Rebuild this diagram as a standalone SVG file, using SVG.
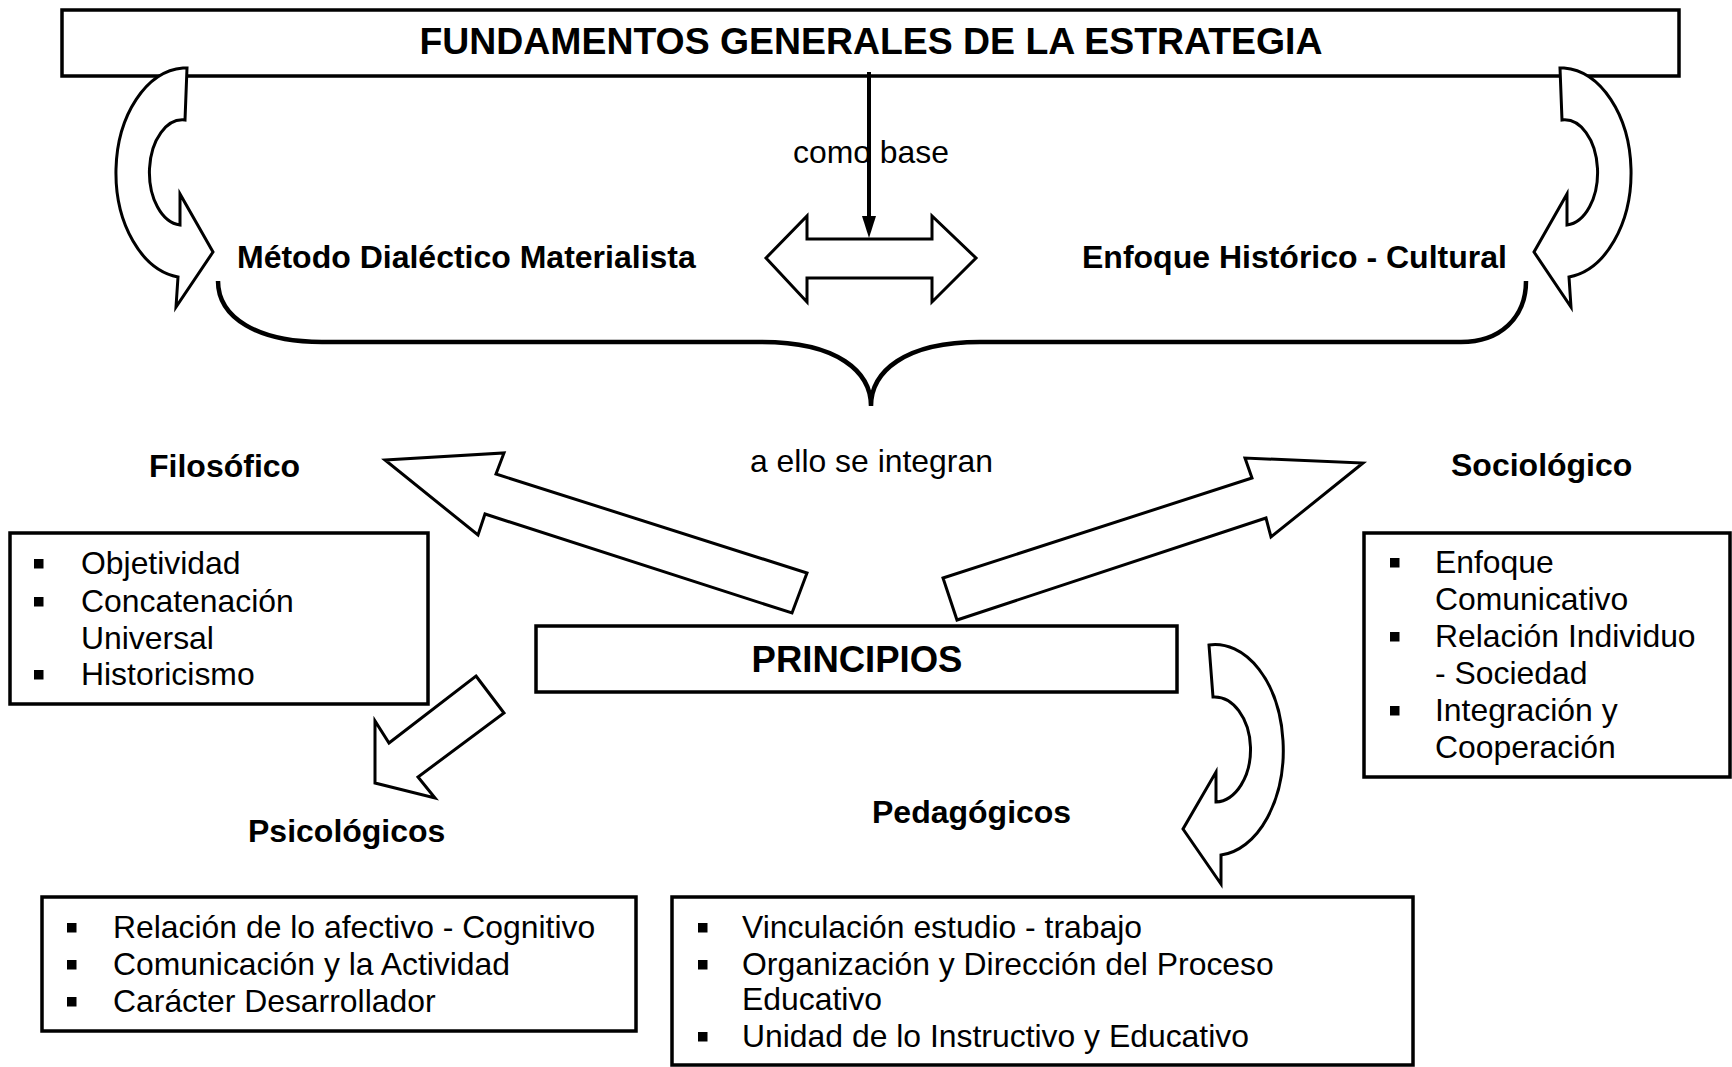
<svg xmlns="http://www.w3.org/2000/svg" width="1732" height="1067" viewBox="0 0 1732 1067">
<style>
.box{fill:#fff;stroke:#000;stroke-width:3.5}
.shp{fill:#fff;stroke:#000;stroke-width:3;stroke-linejoin:miter}
.ln{fill:none;stroke:#000}
.t{font-family:"Liberation Sans",Arial,sans-serif;font-size:31.9px;fill:#000}
.b{font-weight:bold;font-size:32px}
.h{font-weight:bold;font-size:37.4px}
.p{font-weight:bold;font-size:36.5px}
.bul{fill:#000}
</style>
<rect width="1732" height="1067" fill="#fff"/>
<g id="fundamentos">
<rect class="box" x="62" y="10" width="1617" height="66"/>
<text class="t h" x="871" y="54" text-anchor="middle">FUNDAMENTOS GENERALES DE LA ESTRATEGIA</text>
</g>
<g id="connectors">
<path class="shp" d="M187,68 L185,120 A33,52.5 0 0 0 180,225 L180,194 L213,252 L176,307 L178,277 A71,105 0 0 1 183,68 Z"/>
<path class="shp" d="M1560,68 L1562,120 A33,52.5 0 0 1 1567,225 L1567,194 L1534,252 L1571,307 L1569,277 A71,105 0 0 0 1564,68 Z"/>
<line class="ln" x1="869" y1="72" x2="869" y2="220" stroke-width="4"/>
<polygon points="862,216 876,216 869,238" fill="#000"/>
<polygon class="shp" points="766,258 807,216 807,239 932,239 932,216 976,258 932,302 932,278 807,278 807,302"/>
<path class="ln" stroke-width="4.5" d="M218,281 C218,318 258,342 322,342 L762,342 C838,342 871,372 871,406 C871,372 904,342 980,342 L1461,342 C1500,342 1526,318 1526,281"/>
<polygon class="shp" points="385,460 504,453 496,474 807,573 792,613 485,514 478,535"/>
<polygon class="shp" points="943,578 1252,478 1245,458 1363,463 1271,537 1266,518 957,620"/>
<polygon class="shp" points="476,676 504,713 418,777 435,798 375,783 375,721 389,743"/>
<path class="shp" d="M1209,645 A68,105 0 0 1 1221,855 L1221,884 L1183,829 L1216,772 L1216,802 A36,52.5 0 0 0 1213,697 Z"/>
<text class="t" x="793" y="163">como base</text>
<text class="t" x="750" y="472">a ello se integran</text>
</g>
<g id="metodo">
<text class="t b" x="237" y="268">Método Dialéctico Materialista</text>
</g>
<g id="enfoque">
<text class="t b" x="1082" y="268">Enfoque Histórico - Cultural</text>
</g>
<g id="filosofico">
<text class="t b" x="149" y="477">Filosófico</text>
<rect class="box" x="10" y="533" width="418" height="171"/>
<rect class="bul" x="34" y="559" width="9.5" height="9.5"/>
<rect class="bul" x="34" y="597" width="9.5" height="9.5"/>
<rect class="bul" x="34" y="670" width="9.5" height="9.5"/>
<text class="t" x="81" y="574">Objetividad</text>
<text class="t" x="81" y="612">Concatenación</text>
<text class="t" x="81" y="649">Universal</text>
<text class="t" x="81" y="685">Historicismo</text>
</g>
<g id="sociologico">
<text class="t b" x="1451" y="476">Sociológico</text>
<rect class="box" x="1364" y="533" width="366" height="244"/>
<rect class="bul" x="1390" y="558" width="9.5" height="9.5"/>
<rect class="bul" x="1390" y="632" width="9.5" height="9.5"/>
<rect class="bul" x="1390" y="706" width="9.5" height="9.5"/>
<text class="t" x="1435" y="573">Enfoque</text>
<text class="t" x="1435" y="610">Comunicativo</text>
<text class="t" x="1435" y="647">Relación Individuo</text>
<text class="t" x="1435" y="684">- Sociedad</text>
<text class="t" x="1435" y="721">Integración y</text>
<text class="t" x="1435" y="758">Cooperación</text>
</g>
<g id="principios">
<rect class="box" x="536" y="626" width="641" height="66"/>
<text class="t p" x="857" y="672" text-anchor="middle">PRINCIPIOS</text>
</g>
<g id="psicologicos">
<text class="t b" x="248" y="842">Psicológicos</text>
<rect class="box" x="42" y="897" width="594" height="134"/>
<rect class="bul" x="67" y="923" width="9.5" height="9.5"/>
<rect class="bul" x="67" y="960" width="9.5" height="9.5"/>
<rect class="bul" x="67" y="997" width="9.5" height="9.5"/>
<text class="t" x="113" y="938">Relación de lo afectivo - Cognitivo</text>
<text class="t" x="113" y="975">Comunicación y la Actividad</text>
<text class="t" x="113" y="1012">Carácter Desarrollador</text>
</g>
<g id="pedagogicos">
<text class="t b" x="872" y="823">Pedagógicos</text>
<rect class="box" x="672" y="897" width="741" height="168"/>
<rect class="bul" x="698" y="923" width="9.5" height="9.5"/>
<rect class="bul" x="698" y="960" width="9.5" height="9.5"/>
<rect class="bul" x="698" y="1032" width="9.5" height="9.5"/>
<text class="t" x="742" y="938">Vinculación estudio - trabajo</text>
<text class="t" x="742" y="975">Organización y Dirección del Proceso</text>
<text class="t" x="742" y="1010">Educativo</text>
<text class="t" x="742" y="1047">Unidad de lo Instructivo y Educativo</text>
</g>
</svg>
